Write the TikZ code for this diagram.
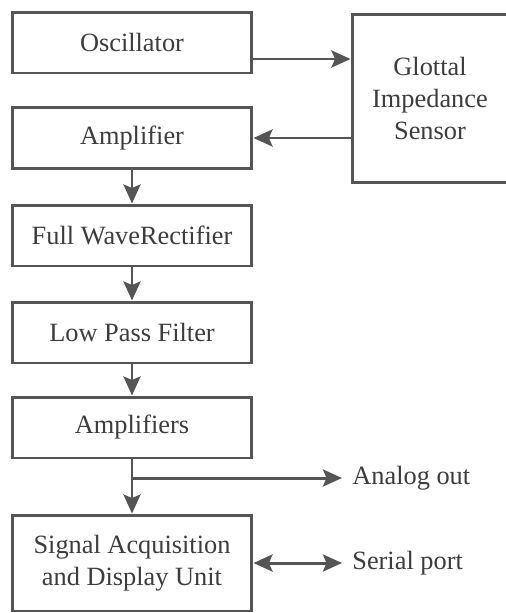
\documentclass[tikz,border=0pt]{standalone}
\usepackage{fontspec}
\setmainfont{Liberation Serif}
\usepackage{xcolor}
\usetikzlibrary{arrows.meta}
\definecolor{lineGray}{HTML}{555555}
\definecolor{textGray}{HTML}{3C3C3C}

\begin{document}
\begin{tikzpicture}[x=0.02cm,y=-0.02cm,
  block/.style={draw=lineGray,line width=1.7pt,minimum width=4.8cm,minimum height=1.22cm,inner sep=0pt,text=textGray,font=\fontsize{15}{18}\selectfont,align=center},
  flow/.style={draw=lineGray,line width=1.7pt,-{Stealth[length=0.38cm,width=0.34cm,inset=0.07cm]}},
  lbl/.style={text=textGray,font=\fontsize{15}{18}\selectfont,anchor=west,inner xsep=0.2cm,inner ysep=0pt}]
  \useasboundingbox (0,0) rectangle (506,613);
  \node[block] (osc) at (132,42.5) {Oscillator};
  \node[block] (amp) at (132,138) {Amplifier};
  \node[block] (fwr) at (132,235.5) {Full WaveRectifier};
  \node[block] (lpf) at (132,332.5) {Low Pass Filter};
  \node[block] (amps) at (132,427.5) {Amplifiers};
  \node[block,minimum height=1.92cm] (sig) at (132,563) {Signal Acquisition\\and Display Unit};
  \node[block,minimum width=3.12cm,minimum height=3.38cm] (sensor) at (430,98.5) {Glottal\\Impedance\\Sensor};
  \node[lbl] (analog) at (342,478) {Analog out};
  \node[lbl] (serial) at (342,563) {Serial port};
  \coordinate (tap) at (132,478);
  \draw[flow] ([yshift=-0.33cm]osc.east) -- ([yshift=-0.33cm]osc.east -| sensor.west);
  \draw[flow] (amp.east -| sensor.west) -- (amp.east);
  \draw[flow] (amp) -- (fwr);
  \draw[flow] (fwr) -- (lpf);
  \draw[flow] (lpf) -- (amps);
  \draw[flow] (amps) -- (sig);
  \draw[flow] (tap) -- (analog.west);
  \draw[flow,{Stealth[length=0.38cm,width=0.34cm,inset=0.07cm]}-{Stealth[length=0.38cm,width=0.34cm,inset=0.07cm]}] (sig.east) -- (serial.west);
\end{tikzpicture}
\end{document}
